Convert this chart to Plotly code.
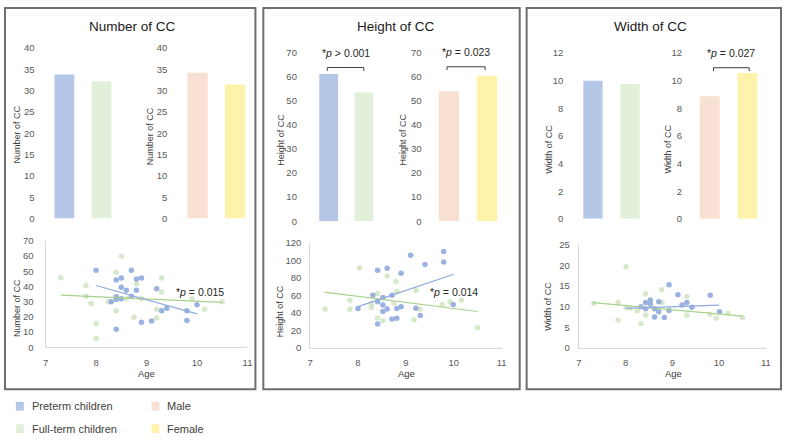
import plotly.graph_objects as go

W, H = 788, 440

# ---------------- data ----------------
groups = ["Preterm children", "Full-term children"]
sexes = ["Male", "Female"]

number_group = [33.8, 32.2]
number_sex = [34.2, 31.4]
height_group = [61.2, 53.5]
height_sex = [54.0, 60.5]
width_group = [10.0, 9.76]
width_sex = [8.87, 10.55]

num_pre_age = [8.0, 8.4, 8.5, 8.7, 8.8, 8.9, 8.5, 8.6, 8.8, 8.7, 8.4, 8.4, 8.5, 8.3, 9.2, 9.3, 9.4, 9.1, 8.9, 8.4, 9.8, 9.8, 10.0]
num_pre_val = [50.7, 44.3, 45.6, 50.7, 45, 45.6, 39.6, 37.5, 37.5, 33.6, 33.2, 31.5, 31.9, 30, 38.5, 24, 25.7, 17.3, 16.5, 11.8, 24, 17.6, 28]
num_full_age = [7.3, 7.8, 7.8, 7.9, 8.0, 8.0, 8.5, 8.4, 8.4, 8.6, 8.75, 8.8, 9.3, 9.3, 9.2, 9.2, 9.9, 10.15, 10.5, 8.25, 8.9]
num_full_val = [45.8, 40.7, 33.6, 28.9, 15.6, 5.8, 60, 49.3, 24, 32, 19.7, 41.8, 45.6, 36.4, 25, 19.3, 32, 25, 30, 30, 32]

hgt_pre_age = [8.0, 8.31, 8.41, 8.41, 8.41, 8.52, 8.52, 8.52, 8.61, 8.61, 8.71, 8.71, 8.81, 8.81, 8.9, 8.9, 9.1, 9.21, 9.3, 9.4, 9.79, 9.79, 9.99]
hgt_pre_val = [44.8, 60, 52.6, 27.4, 88.5, 57.4, 48.9, 41.5, 90.7, 44.4, 60, 33, 33.7, 44.8, 47, 85, 105.6, 45.2, 37, 95, 110, 97.8, 49.6]
hgt_full_age = [7.31, 7.83, 7.83, 8.03, 8.28, 8.41, 8.41, 8.52, 8.61, 8.79, 8.81, 8.75, 9.17, 9.3, 9.21, 9.76, 9.92, 10.16, 10.5, 8.28]
hgt_full_val = [44.4, 44, 54.4, 91.5, 46, 61.9, 34, 31, 82, 75.6, 64.4, 50.7, 32, 44.4, 65.6, 49.6, 52.6, 54.4, 23, 50.7]

wid_pre_age = [8.93, 9.12, 9.81, 8.53, 8.43, 8.53, 8.71, 9.31, 9.21, 8.33, 8.43, 8.62, 9.42, 8.93, 8.71, 8.62, 8.83, 10.01]
wid_pre_val = [15.3, 12.9, 12.8, 11.6, 11, 10.6, 11.2, 11, 10.4, 10, 9.5, 9.5, 9.9, 9.1, 8.8, 7.5, 7.4, 8.8]
wid_full_age = [8.01, 8.43, 8.77, 9.31, 7.32, 7.84, 8.01, 8.25, 8.43, 7.84, 8.33, 9.31, 9.8, 9.94, 10.19, 10.5, 8.78, 8.1]
wid_full_val = [19.7, 13.1, 14.1, 12.5, 10.8, 11, 9.9, 9, 8, 6.7, 5.9, 7.9, 8.2, 7.2, 8.4, 7.4, 11, 9.6]

# linear trend lines (endpoints)
num_pre_trend = ([8.0, 10.0], [40.7, 22.0])
num_full_trend = ([7.3, 10.5], [34.3, 29.5])
hgt_pre_trend = ([8.0, 10.0], [47.0, 84.0])
hgt_full_trend = ([7.3, 10.5], [63.7, 41.5])
wid_pre_trend = ([8.0, 10.0], [9.6, 10.4])
wid_full_trend = ([7.3, 10.5], [11.0, 7.7])

panel_titles = ["Number of CC", "Height of CC", "Width of CC"]
scatter_p = ["*<i>p</i> = 0.015", "*<i>p</i> = 0.014"]
bar_p = {"height_group": "*<i>p</i> > 0.001", "height_sex": "*<i>p</i> = 0.023", "width_sex": "*<i>p</i> = 0.027"}

# ---------------- styling ----------------
C_BLUE, C_GREEN, C_PEACH, C_YELLOW = "#B4C7E7", "#E2F0D9", "#F8E0D3", "#FFF2AB"
C_PT_BLUE, C_PT_GREEN = "#8FAADC", "#C9E2B8"
FONT = "Liberation Sans, Arial, sans-serif"
TICK = dict(family=FONT, size=9.5, color="#595959")


def xd(a, b):
    return [a / W, b / W]


def yd(top, bottom):
    return [1 - bottom / H, 1 - top / H]


def bar_xrange(d0, d1, c0, c1):
    u = c1 - c0
    return [(d0 - c0) / u, (d1 - c0) / u], u


def pann(px, py, text, size, color="#404040", angle=0, xanchor="center"):
    return dict(x=px / W, y=1 - py / H, xref="paper", yref="paper", text=text, textangle=angle,
                showarrow=False, xanchor=xanchor, yanchor="middle",
                font=dict(family=FONT, size=size, color=color))


fig = go.Figure()
layout = dict(width=W, height=H, margin=dict(l=0, r=0, t=0, b=0),
              paper_bgcolor="white", plot_bgcolor="white", showlegend=False,
              font=dict(family=FONT))
shapes, annots = [], []

# bar subplots
bars = [
    (number_group, groups, [C_BLUE, C_GREEN], (36, 125), (62, 99.5), 20, 43, 218, 40, 5, (14, 132)),
    (number_sex, sexes, [C_PEACH, C_YELLOW], (170, 252), (196.5, 234.5), 20.5, 43, 218, 40, 5, (148, 133)),
    (height_group, groups, [C_BLUE, C_GREEN], (301, 395), (329, 364.5), 19, 48, 220.7, 70, 10, (280, 137)),
    (height_sex, sexes, [C_PEACH, C_YELLOW], (427, 515), (450.5, 489), 20.5, 48, 220.7, 70, 10, (404, 137)),
    (width_group, groups, [C_BLUE, C_GREEN], (570, 660), (596, 633.5), 19.5, 48.3, 218.3, 12, 2, (552, 147)),
    (width_sex, sexes, [C_PEACH, C_YELLOW], (690, 780), (714, 752), 20, 48.3, 218.3, 12, 2, (672, 147)),
]
bar_ytitles = ["Number of CC", "Number of CC", "Height of CC", "Height of CC", "Width of CC", "Width of CC"]

for i, (vals, cats, cols, dom, cen, bw, ytop, ybot, ymax, dt, tpos) in enumerate(bars):
    n = i + 1
    xa = "x" if n == 1 else f"x{n}"
    ya = "y" if n == 1 else f"y{n}"
    rng, unit = bar_xrange(dom[0], dom[1], cen[0], cen[1])
    fig.add_trace(go.Bar(x=cats, y=vals, marker=dict(color=cols, line=dict(width=0)),
                         width=bw / unit, xaxis=xa, yaxis=ya, name=" / ".join(cats)))
    layout[f"xaxis{'' if n == 1 else n}"] = dict(domain=xd(*dom), range=rng, type="category",
                                                 showticklabels=False, showgrid=False, zeroline=False,
                                                 showline=False, anchor=ya, fixedrange=True)
    layout[f"yaxis{'' if n == 1 else n}"] = dict(domain=yd(ytop, ybot), range=[0, ymax], dtick=dt,
                                                 showgrid=False, zeroline=False, showline=False,
                                                 tickfont=TICK, anchor=xa, ticks="", ticklabelstandoff=3)
    annots.append(pann(tpos[0], tpos[1], bar_ytitles[i], 9, angle=-90))

# significance brackets on bar charts
brackets = [(3, -0.04, 1.0, 63.9, 1.4, 66.6, "height_group"),
            (4, -0.05, 0.95, 64.2, 1.4, 66.9, "height_sex"),
            (6, 0.1, 1.05, 10.94, 0.25, 11.45, "width_sex")]
for n, x0, x1, yt, leg, ytx, key in brackets:
    xr, yr = f"x{n}", f"y{n}"
    shapes.append(dict(type="path", xref=xr, yref=yr,
                       path=f"M {x0},{yt - leg} L {x0},{yt} L {x1},{yt} L {x1},{yt - leg}",
                       line=dict(color="#404040", width=1)))
    annots.append(dict(x=(x0 + x1) / 2, y=ytx, xref=xr, yref=yr, text=bar_p[key], showarrow=False,
                       xanchor="center", yanchor="bottom", font=dict(family=FONT, size=10.5, color="#262626")))

# scatter subplots
scat = [
    (num_pre_age, num_pre_val, num_full_age, num_full_val, num_pre_trend, num_full_trend,
     (43, 247), (241, 350), 70, 10, (14, 310), (145, 377), "Number of CC", 9),
    (hgt_pre_age, hgt_pre_val, hgt_full_age, hgt_full_val, hgt_pre_trend, hgt_full_trend,
     (310.3, 503.7), (242.7, 350.7), 120, 20, (280, 313), (408, 377), "Height of CC", 6),
    (wid_pre_age, wid_pre_val, wid_full_age, wid_full_val, wid_pre_trend, wid_full_trend,
     (581.7, 770.7), (245, 350.7), 25, 5, (551, 308), (677, 377), "Width of CC", 6),
]
for j, (pa, pv, fa, fv, pt, ft, xdom, ydom, ymax, dt, ttl, agepos, ytl, ystand) in enumerate(scat):
    n = 7 + j
    xa, ya = f"x{n}", f"y{n}"
    fig.add_trace(go.Scatter(x=fa, y=fv, mode="markers", xaxis=xa, yaxis=ya, name=groups[1],
                             marker=dict(color=C_PT_GREEN, size=5.5, opacity=0.75)))
    fig.add_trace(go.Scatter(x=pa, y=pv, mode="markers", xaxis=xa, yaxis=ya, name=groups[0],
                             marker=dict(color=C_PT_BLUE, size=5.5, opacity=0.9)))
    fig.add_trace(go.Scatter(x=ft[0], y=ft[1], mode="lines", xaxis=xa, yaxis=ya,
                             line=dict(color="#A9D18E", width=1.2)))
    fig.add_trace(go.Scatter(x=pt[0], y=pt[1], mode="lines", xaxis=xa, yaxis=ya,
                             line=dict(color=C_PT_BLUE, width=1.2)))
    layout[f"xaxis{n}"] = dict(domain=xd(*xdom), range=[7, 11], dtick=1, showgrid=False, zeroline=False,
                               showline=True, linecolor="#D9D9D9", linewidth=1, tickfont=TICK,
                               anchor=ya, ticks="", ticklabelstandoff=6)
    layout[f"yaxis{n}"] = dict(domain=yd(*ydom), range=[0, ymax], dtick=dt, showgrid=False, zeroline=False,
                               showline=True, linecolor="#D9D9D9", linewidth=1, tickfont=TICK,
                               anchor=xa, ticks="", ticklabelstandoff=ystand)
    annots.append(pann(ttl[0], ttl[1], ytl, 9, angle=-90))
    annots.append(pann(agepos[0], agepos[1], "Age", 9.5))

# scatter p-values
annots.append(dict(x=10.05, y=36.5, xref="x7", yref="y7", text=scatter_p[0], showarrow=False,
                   xanchor="center", yanchor="middle", font=dict(family=FONT, size=10.5, color="#262626")))
annots.append(dict(x=10.0, y=63.5, xref="x8", yref="y8", text=scatter_p[1], showarrow=False,
                   xanchor="center", yanchor="middle", font=dict(family=FONT, size=10.5, color="#262626")))

# panel frames and titles
frames = [(2, 255), (263, 522), (529, 786)]
title_x = [131, 397, 654]
for (a, b), tx, t in zip(frames, title_x, panel_titles):
    shapes.append(dict(type="rect", xref="paper", yref="paper", x0=a / W, x1=b / W,
                       y0=1 - 393 / H, y1=1 - 2 / H, line=dict(color="#6E6E6E", width=2)))
    annots.append(pann(tx, 21, t, 13.5, color="#1A1A1A"))

# legend (bottom-left)
legend_items = [(groups[0], C_BLUE, 13, 410.5), (groups[1], C_GREEN, 13, 433.5),
                (sexes[0], C_PEACH, 150, 410.5), (sexes[1], C_YELLOW, 150, 433.5)]
for name, col, lx, ly in legend_items:
    shapes.append(dict(type="rect", xref="paper", yref="paper", x0=lx / W, x1=(lx + 8) / W,
                       y0=1 - (ly + 4.5) / H, y1=1 - (ly - 4.5) / H, fillcolor=col, line=dict(width=0)))
    annots.append(pann(lx + 14, ly, name, 11, xanchor="left"))

layout["shapes"] = shapes
layout["annotations"] = annots
fig.update_layout(**layout)
fig.write_html("out.html")
